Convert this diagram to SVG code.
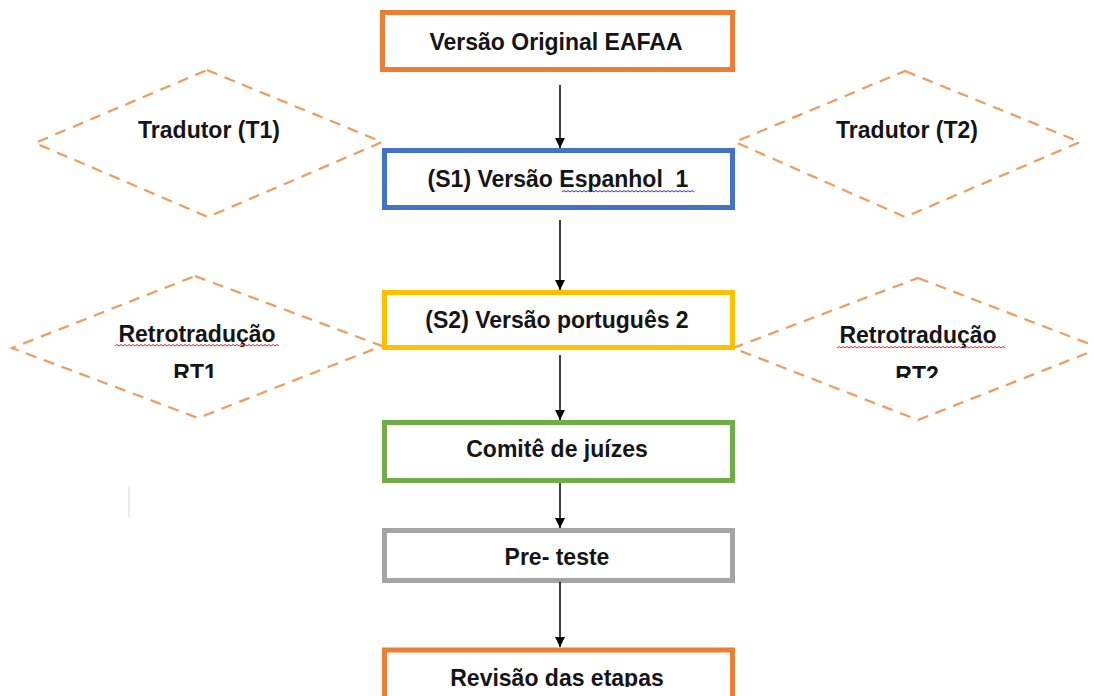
<svg xmlns="http://www.w3.org/2000/svg" width="1094" height="696" viewBox="0 0 1094 696">
<style>
.box{fill:#fff;stroke-width:5}
.dia{fill:none;stroke:#F09A5C;stroke-width:2.2;stroke-dasharray:11 8}
.t{font-family:"Liberation Sans",Arial,sans-serif;font-weight:bold;font-size:23px;fill:#151515;text-anchor:middle}
.conn line{stroke:#000;stroke-width:1.5}
.sq{fill:none;stroke-width:1}
</style>
<defs>
<marker id="ah" viewBox="0 0 10 10" refX="10" refY="5" markerWidth="10" markerHeight="10" markerUnits="userSpaceOnUse" orient="auto">
<path d="M0,0 L10,5 L0,10 z" fill="#000"/>
</marker>
<clipPath id="c1"><rect x="0" y="0" width="1094" height="378"/></clipPath>
<clipPath id="c2"><rect x="0" y="0" width="1094" height="687"/></clipPath>
</defs>
<rect width="1094" height="696" fill="#fff"/>
<line x1="129" y1="487" x2="129" y2="517" stroke="#e6e6e6" stroke-width="1.5"/>
<g id="t1">
<polygon class="dia" points="207,70 382,142 208,217 35,143"/>
<text class="t" x="209" y="138">Tradutor (T1)</text>
</g>
<g id="t2">
<polygon class="dia" points="905,71 1080,142 905,217 735,142"/>
<text class="t" x="907" y="138">Tradutor (T2)</text>
</g>
<g id="rt1">
<polygon class="dia" points="195,276 382,346 198,418 12,348"/>
<text class="t" x="197" y="342">Retrotradução</text>
<path class="sq" stroke="#e02020" d="M115,346 l2,-1.5 l2,1.5 l2,-1.5 l2,1.5 l2,-1.5 l2,1.5 l2,-1.5 l2,1.5 l2,-1.5 l2,1.5 l2,-1.5 l2,1.5 l2,-1.5 l2,1.5 l2,-1.5 l2,1.5 l2,-1.5 l2,1.5 l2,-1.5 l2,1.5 l2,-1.5 l2,1.5 l2,-1.5 l2,1.5 l2,-1.5 l2,1.5 l2,-1.5 l2,1.5 l2,-1.5 l2,1.5 l2,-1.5 l2,1.5 l2,-1.5 l2,1.5 l2,-1.5 l2,1.5 l2,-1.5 l2,1.5 l2,-1.5 l2,1.5 l2,-1.5 l2,1.5 l2,-1.5 l2,1.5 l2,-1.5 l2,1.5 l2,-1.5 l2,1.5 l2,-1.5 l2,1.5 l2,-1.5 l2,1.5 l2,-1.5 l2,1.5 l2,-1.5 l2,1.5 l2,-1.5 l2,1.5 l2,-1.5 l2,1.5 l2,-1.5 l2,1.5 l2,-1.5 l2,1.5 l2,-1.5 l2,1.5 l2,-1.5 l2,1.5 l2,-1.5 l2,1.5 l2,-1.5 l2,1.5 l2,-1.5 l2,1.5 l2,-1.5 l2,1.5 l2,-1.5 l2,1.5 l2,-1.5 l2,1.5 l2,-1.5 l2,1.5"/>
<text class="t" x="195" y="381" clip-path="url(#c1)">RT1</text>
</g>
<g id="rt2">
<polygon class="dia" points="918,278 1100,348 918,420 733,348"/>
<text class="t" x="918" y="343">Retrotradução</text>
<path class="sq" stroke="#e02020" d="M837,348 l2,-1.5 l2,1.5 l2,-1.5 l2,1.5 l2,-1.5 l2,1.5 l2,-1.5 l2,1.5 l2,-1.5 l2,1.5 l2,-1.5 l2,1.5 l2,-1.5 l2,1.5 l2,-1.5 l2,1.5 l2,-1.5 l2,1.5 l2,-1.5 l2,1.5 l2,-1.5 l2,1.5 l2,-1.5 l2,1.5 l2,-1.5 l2,1.5 l2,-1.5 l2,1.5 l2,-1.5 l2,1.5 l2,-1.5 l2,1.5 l2,-1.5 l2,1.5 l2,-1.5 l2,1.5 l2,-1.5 l2,1.5 l2,-1.5 l2,1.5 l2,-1.5 l2,1.5 l2,-1.5 l2,1.5 l2,-1.5 l2,1.5 l2,-1.5 l2,1.5 l2,-1.5 l2,1.5 l2,-1.5 l2,1.5 l2,-1.5 l2,1.5 l2,-1.5 l2,1.5 l2,-1.5 l2,1.5 l2,-1.5 l2,1.5 l2,-1.5 l2,1.5 l2,-1.5 l2,1.5 l2,-1.5 l2,1.5 l2,-1.5 l2,1.5 l2,-1.5 l2,1.5 l2,-1.5 l2,1.5 l2,-1.5 l2,1.5 l2,-1.5 l2,1.5 l2,-1.5 l2,1.5 l2,-1.5 l2,1.5 l2,-1.5 l2,1.5 l2,-1.5 l2,1.5"/>
<text class="t" x="917" y="383" clip-path="url(#c1)">RT2</text>
</g>
<g id="n1">
<rect class="box" x="382.5" y="12.5" width="350" height="57" stroke="#ED7D31"/>
<text class="t" x="556" y="50">Versão Original EAFAA</text>
</g>
<g id="n2">
<rect class="box" x="384.5" y="150.5" width="348" height="57" stroke="#4472C4"/>
<text class="t" x="558" y="187" xml:space="preserve">(S1) Versão Espanhol  1</text>
<path class="sq" stroke="#2b2bd6" d="M562,192 l2,-1.5 l2,1.5 l2,-1.5 l2,1.5 l2,-1.5 l2,1.5 l2,-1.5 l2,1.5 l2,-1.5 l2,1.5 l2,-1.5 l2,1.5 l2,-1.5 l2,1.5 l2,-1.5 l2,1.5 l2,-1.5 l2,1.5 l2,-1.5 l2,1.5 l2,-1.5 l2,1.5 l2,-1.5 l2,1.5 l2,-1.5 l2,1.5 l2,-1.5 l2,1.5 l2,-1.5 l2,1.5 l2,-1.5 l2,1.5 l2,-1.5 l2,1.5 l2,-1.5 l2,1.5 l2,-1.5 l2,1.5 l2,-1.5 l2,1.5 l2,-1.5 l2,1.5 l2,-1.5 l2,1.5 l2,-1.5 l2,1.5 l2,-1.5 l2,1.5 l2,-1.5 l2,1.5 l2,-1.5 l2,1.5 l2,-1.5 l2,1.5 l2,-1.5 l2,1.5 l2,-1.5 l2,1.5 l2,-1.5 l2,1.5 l2,-1.5 l2,1.5 l2,-1.5 l2,1.5 l2,-1.5 l2,1.5"/>
</g>
<g id="n3">
<rect class="box" x="384.5" y="292.5" width="348" height="55" stroke="#FFC000"/>
<text class="t" x="557" y="328">(S2) Versão português 2</text>
</g>
<g id="n4">
<rect class="box" x="384.5" y="422.5" width="348" height="58" stroke="#70AD47"/>
<text class="t" x="557" y="457">Comitê de juízes</text>
</g>
<g id="n5">
<rect class="box" x="384.5" y="530.5" width="348" height="50" stroke="#A5A5A5"/>
<text class="t" x="557" y="565">Pre- teste</text>
</g>
<g id="n6">
<rect class="box" x="384.5" y="650" width="348" height="60" stroke="#ED7D31"/>
<text class="t" x="557" y="686" clip-path="url(#c2)">Revisão das etapas</text>
</g>
<g class="conn" id="connectors">
<line x1="560" y1="85" x2="560" y2="148" marker-end="url(#ah)"/>
<line x1="560" y1="220" x2="560" y2="290" marker-end="url(#ah)"/>
<line x1="560" y1="355" x2="560" y2="420" marker-end="url(#ah)"/>
<line x1="560" y1="483" x2="560" y2="528" marker-end="url(#ah)"/>
<line x1="560" y1="582" x2="560" y2="647" marker-end="url(#ah)"/>
</g>
</svg>
